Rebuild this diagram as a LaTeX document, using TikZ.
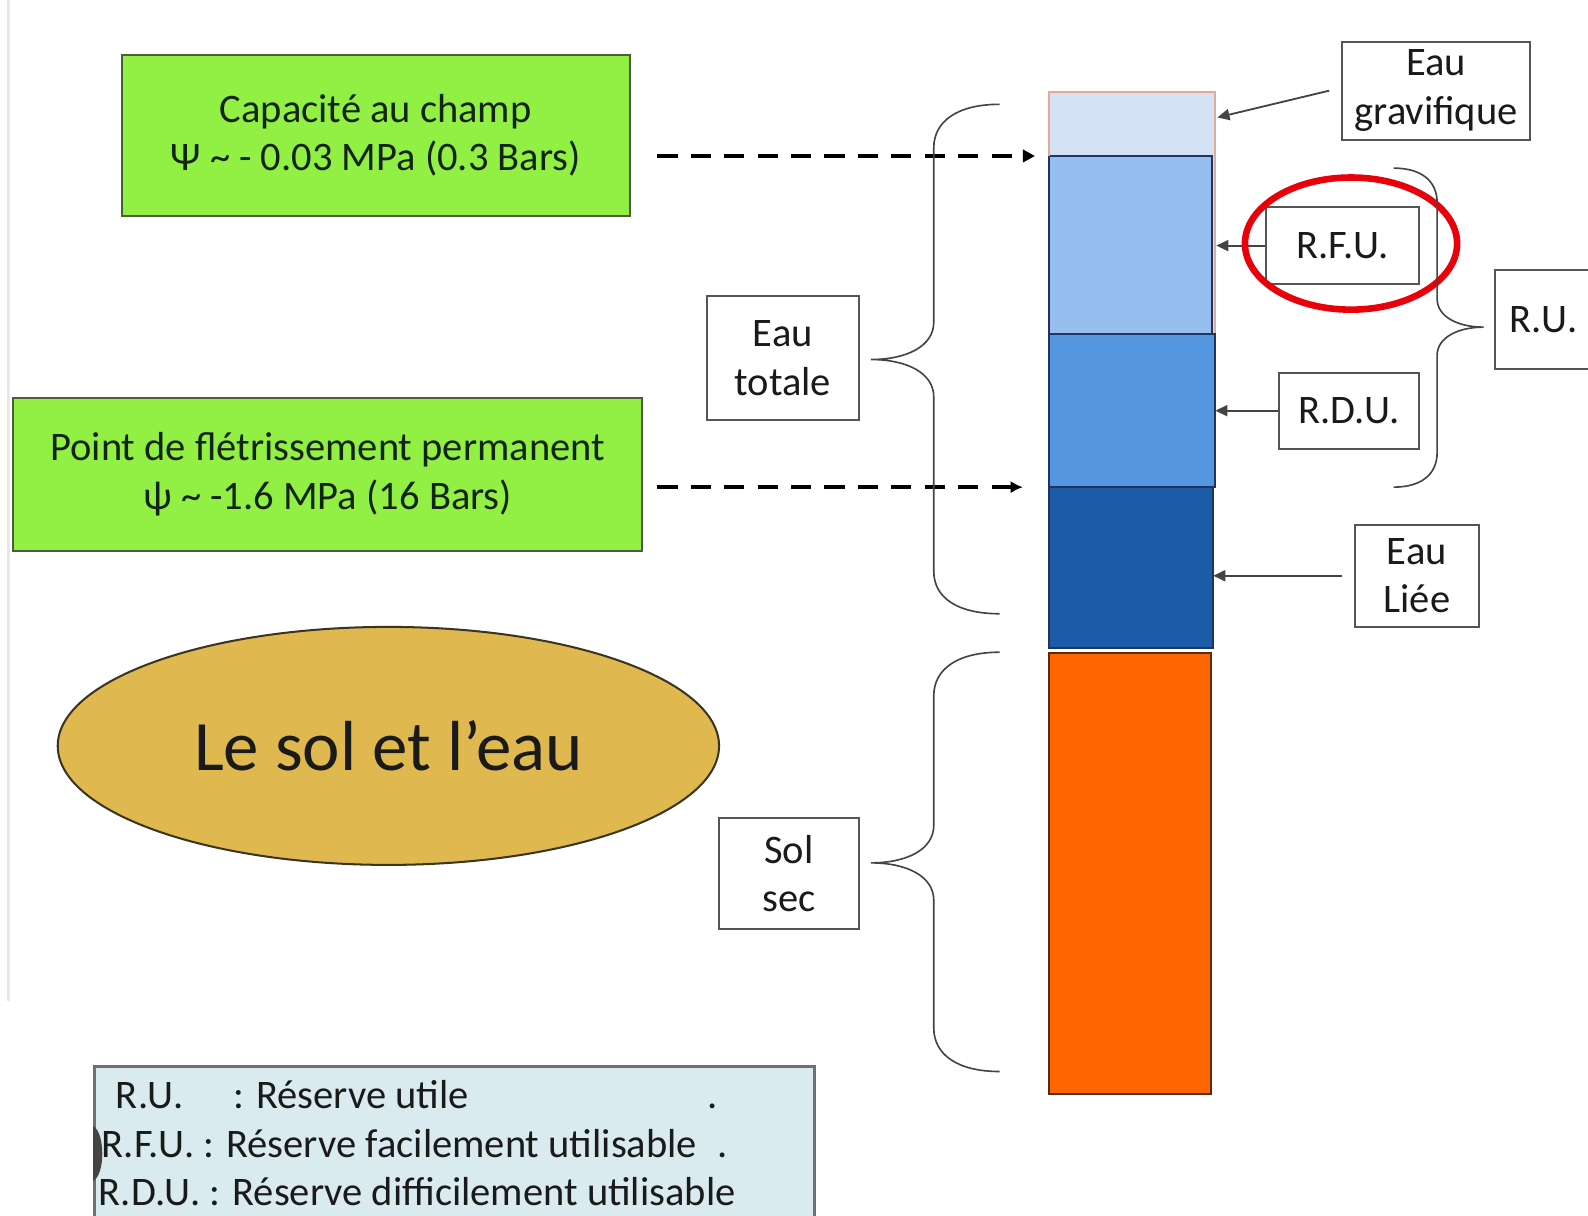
\documentclass[tikz,border=0pt]{standalone}
\usepackage{fontspec}
\setmainfont{Carlito}
\usetikzlibrary{shapes.geometric,arrows.meta,calc}
\definecolor{limegreen}{HTML}{92F044}
\definecolor{greenborder}{HTML}{4A5E3C}
\definecolor{greentext}{HTML}{142414}
\definecolor{boxgray}{HTML}{555555}
\definecolor{txtdark}{HTML}{1A1A1A}
\definecolor{gravfill}{HTML}{D3E2F5}
\definecolor{salmon}{HTML}{E8A898}
\definecolor{rfufill}{HTML}{96BEEE}
\definecolor{rdufill}{HTML}{5596E1}
\definecolor{liefill}{HTML}{1C5BA8}
\definecolor{layerline}{HTML}{1F3560}
\definecolor{soilfill}{HTML}{FF6600}
\definecolor{soilline}{HTML}{5A2A10}
\definecolor{goldfill}{HTML}{DFB850}
\definecolor{goldline}{HTML}{3A3420}
\definecolor{legendfill}{HTML}{DAEBEF}
\definecolor{legendline}{HTML}{707070}
\definecolor{braceg}{HTML}{444444}
\definecolor{ringred}{HTML}{E8000A}
\newcommand\lblfont{\fontsize{20pt}{24pt}\selectfont}
\begin{document}
\begin{tikzpicture}[x=0.5pt,y=-0.5pt,
  labelbox/.style={draw=boxgray, line width=1pt, fill=white, align=center,
    inner sep=0pt, font=\lblfont, text=txtdark},
  greenbox/.style={draw=greenborder, fill=limegreen, line width=1pt, align=center,
    inner sep=0pt, font=\lblfont, text=greentext},
  layer/.style={inner sep=0pt, outer sep=0pt, line width=1pt},
  ptr/.style={draw=braceg, line width=0.9pt, -{Triangle[length=6pt,width=5.5pt]}},
  dasharrow/.style={draw=black, line width=2pt, dash pattern=on 10pt off 6.5pt},
  bracepath/.style={draw=braceg, line width=0.8pt},
  legendline/.style={anchor=base west, inner sep=0pt, font=\lblfont, text=txtdark}]
\useasboundingbox (0,0) rectangle (1568,1200);
\clip (0,0) rectangle (1568,1200);
\fill[white] (0,0) rectangle (1568,1200);
\draw[gray!18, line width=1.5pt] (8,0) -- (8,988);

% column of layers
\node[layer, fill=gravfill, minimum width=82pt, minimum height=119.5pt] (gravbg) at (1118,210.5) {};
\node[layer, minimum width=82pt, minimum height=31.5pt] (grav) at (1118,122.5) {};
\node[layer, fill=rfufill, draw=layerline, minimum width=80.5pt, minimum height=88pt] (rfulayer) at (1116.5,242) {};
\draw[salmon, line width=1pt] (gravbg.south east) -- (gravbg.north east) -- (gravbg.north west) -- (grav.south west);
\node[layer, fill=rdufill, draw=layerline, minimum width=82pt, minimum height=75.5pt] (rdulayer) at (1118,405.5) {};
\node[layer, fill=liefill, draw=layerline, minimum width=81pt, minimum height=79.5pt] (lielayer) at (1117,560.5) {};
\node[layer, fill=soilfill, draw=soilline, minimum width=80pt, minimum height=217.5pt] (soil) at (1116,862.5) {};

% green boxes
\node[greenbox, minimum width=251pt, minimum height=79.5pt] (cap) at (371,133.5)
  {\raisebox{-1.2pt}{\parbox{240pt}{\centering Capacité au champ\\Ψ \textasciitilde{} - 0.03 MPa (0.3 Bars)}}};
\node[greenbox, minimum width=310.5pt, minimum height=75.5pt] (pfp) at (323.5,468.5)
  {\raisebox{-1.2pt}{\parbox{305pt}{\centering Point de flétrissement permanent\\ψ \textasciitilde{} -1.6 MPa (16 Bars)}}};

% dashed arrows
\draw[dasharrow, -{Triangle[length=6pt,width=6pt]}]
  ($(cap.east |- rfulayer.north west)+(13pt,0)$) -- ($(rfulayer.north west)+(-7pt,0)$);
\draw[dasharrow, -{Latex[length=6pt,width=6pt]}]
  ($(pfp.east |- lielayer.north west)+(7pt,0)$) -- ($(lielayer.north west)+(-13pt,0)$);

% label boxes
\node[labelbox, minimum width=75pt, minimum height=61.5pt] (eautot) at (773,353.5) {Eau\\totale};
\node[labelbox, minimum width=69pt, minimum height=54.5pt] (solsec) at (779,862.5) {Sol\\sec};
\node[labelbox, minimum width=92.5pt, minimum height=48.5pt] (eaugrav) at (1418,89.5) {Eau\\gravifique};
\node[labelbox, minimum width=75.5pt, minimum height=38pt] (rfu) at (1325.5,242.5) {R.F.U.};
\node[labelbox, minimum width=69pt, minimum height=37.5pt] (rdu) at (1332,405.5) {R.D.U.};
\node[labelbox, minimum width=48pt, minimum height=48.5pt] (ru) at (1524,315.5) {R.U.};
\node[labelbox, minimum width=61.5pt, minimum height=50.5pt] (eaulie) at (1399,568.5) {Eau\\Liée};

% pointers
\draw[ptr] ($(eaugrav.west)+(-6pt,0)$) -- ($(grav.east)+(1pt,3.25pt)$);
\draw[ptr] (rfu.west) -- ($(rfulayer.east |- rfu.west)+(2pt,0)$);
\draw[ptr] (rdu.west) -- (rdulayer.east |- rdu.west);
\draw[ptr] ($(eaulie.west)+(-5.5pt,0)$) -- (lielayer.east |- eaulie.west);

% red ring
\node[draw=ringred, line width=3.25pt, ellipse, minimum width=104.75pt, minimum height=65.25pt, inner sep=0pt] (ring) at (1334,240.5) {};

% braces
\draw[bracepath] (987,103) .. controls (945,103) and (922,120) .. (922,146) -- (922,318)
  .. controls (922,342) and (895,355) .. (860,355) .. controls (895,355) and (922,368) .. (922,392)
  -- (922,564) .. controls (922,590) and (945,606) .. (987,606);
\draw[bracepath] (987,644) .. controls (945,644) and (922,661) .. (922,687) -- (922,815)
  .. controls (922,839) and (895,852) .. (860,852) .. controls (895,852) and (922,865) .. (922,889)
  -- (922,1015) .. controls (922,1041) and (945,1058) .. (987,1058);
\draw[bracepath] (1376,166) .. controls (1405,166) and (1419,180) .. (1419,200) -- (1419,295)
  .. controls (1419,313) and (1440,323) .. (1465,323) .. controls (1440,323) and (1419,333) .. (1419,351)
  -- (1419,447) .. controls (1419,467) and (1405,481) .. (1376,481);

% title ellipse
\node[ellipse, draw=goldline, fill=goldfill, line width=1pt, minimum width=326.5pt, minimum height=117.5pt,
  inner sep=0pt, font=\fontsize{35pt}{40pt}\selectfont, text=txtdark] (title) at (383.5,736.5) {Le sol et l’eau};

% legend
\node[draw=legendline, fill=legendfill, line width=1.5pt, minimum width=355.5pt, minimum height=88.5pt, inner sep=0pt] (legend) at (448.5,1141.5) {};
\fill[braceg] (92,1112) .. controls (104,1118) and (104,1160) .. (92,1166) -- cycle;
\node[legendline] (l1) at (114,1095) {\makebox[292pt][l]{\makebox[58pt][l]{R.U.}: Réserve utile}.};
\node[legendline] (l2) at (100,1143) {\makebox[304pt][l]{R.F.U. : Réserve facilement utilisable}.};
\node[legendline] (l3) at (97,1190) {R.D.U. : Réserve difficilement utilisable};
\end{tikzpicture}
\end{document}
